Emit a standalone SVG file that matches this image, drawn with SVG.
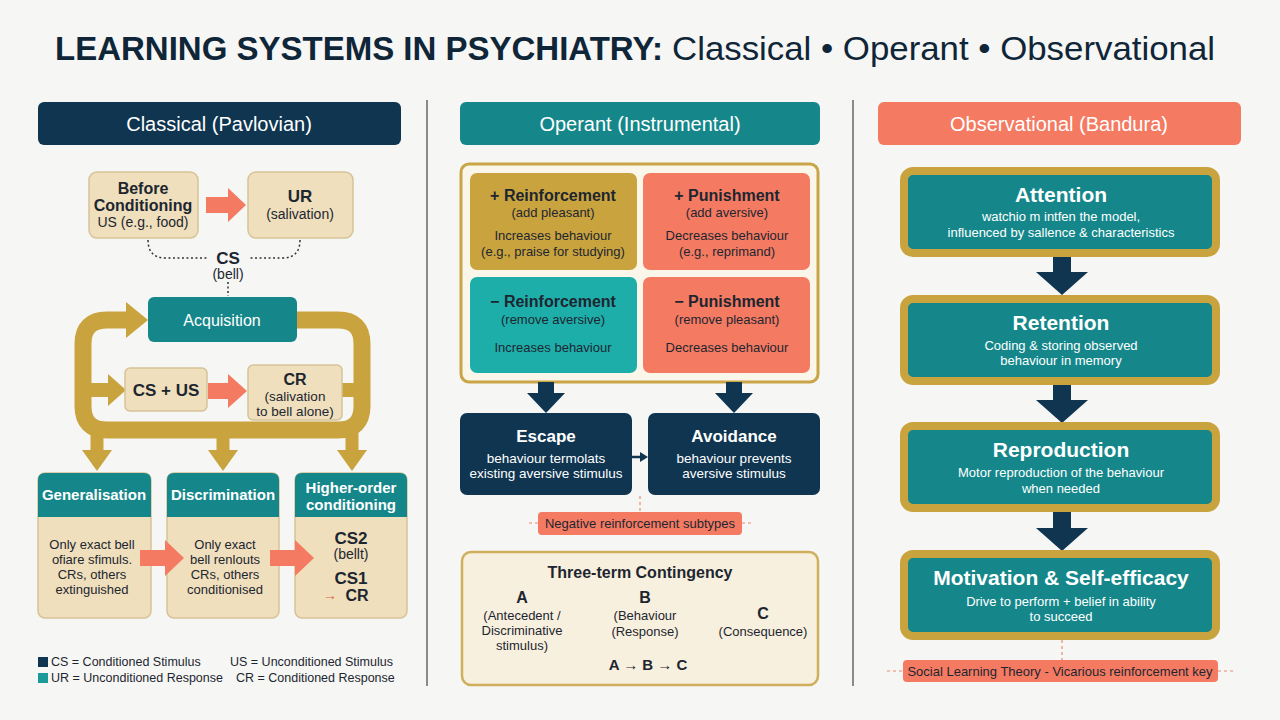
<svg xmlns="http://www.w3.org/2000/svg" width="1280" height="720" viewBox="0 0 1280 720">
<defs>
<style>
text{font-family:"Liberation Sans",Arial,sans-serif;text-anchor:middle;fill:#1d2630}
.b{font-weight:bold}
.w{fill:#ffffff}
.hdr{font-size:20px;fill:#ffffff}
.tan{fill:#efdfbc;stroke:#d6c397;stroke-width:1.5}
.navy{fill:#0f3550}
.teal{fill:#15878b}
.coral{fill:#f47a62}
.gold{fill:#c9a33e}
.s13{font-size:13px}
.s12{font-size:12.5px}
.dot{fill:none;stroke:#333;stroke-width:1.5;stroke-dasharray:2 2.5}
.dash{fill:none;stroke:#e88a70;stroke-width:1.2;stroke-dasharray:3 3}
.obox{fill:#15878b;stroke:#c9a33e;stroke-width:8}
</style>
</defs>
<rect width="1280" height="720" fill="#f6f6f4"/>

<g id="title">
<text x="55" y="60" class="b" style="font-size:34px;text-anchor:start;fill:#0f2538" textLength="608" lengthAdjust="spacingAndGlyphs">LEARNING SYSTEMS IN PSYCHIATRY:</text>
<text x="672" y="60" style="font-size:34px;text-anchor:start;fill:#0f2538" textLength="543" lengthAdjust="spacingAndGlyphs">Classical • Operant • Observational</text>
</g>

<g id="dividers">
<line x1="427" y1="100" x2="427" y2="686" stroke="#444" stroke-width="1.2"/>
<line x1="853" y1="100" x2="853" y2="686" stroke="#444" stroke-width="1.2"/>
</g>

<g id="header-classical"><rect x="38" y="102" width="363" height="43" rx="6" class="navy"/><text x="219" y="131" class="hdr">Classical (Pavlovian)</text></g>
<g id="header-operant"><rect x="460" y="102" width="360" height="43" rx="6" class="teal"/><text x="640" y="131" class="hdr">Operant (Instrumental)</text></g>
<g id="header-observational"><rect x="878" y="102" width="363" height="43" rx="6" class="coral"/><text x="1059" y="131" class="hdr">Observational (Bandura)</text></g>

<!-- Left column connectors -->
<g id="connectors-left">
<path class="dot" d="M148,240 Q148,258 166,258 H208"/>
<path class="dot" d="M300,240 Q300,258 282,258 H250"/>
<path class="dot" d="M228,282 V296"/>
<polygon class="coral" points="206,197 228,197 228,188 246,205 228,222 228,213 206,213"/>
<path d="M297,320 H338 Q362,320 362,344 V406 Q362,430 338,430 H107 Q83,430 83,406 V344 Q83,320 107,320 H128" fill="none" stroke="#c9a33e" stroke-width="17"/>
<polygon class="gold" points="126,302 148,320 126,338"/>
<path d="M83,390 H110" stroke="#c9a33e" stroke-width="14"/>
<polygon class="gold" points="108,374 126,390 108,406"/>
<path d="M342,390 H362" stroke="#c9a33e" stroke-width="14"/>
<polygon class="coral" points="208,383 228,383 228,374 247,391 228,408 228,399 208,399"/>
<path d="M97,430 V452 M223,430 V452 M352,430 V452" stroke="#c9a33e" stroke-width="13"/>
<polygon class="gold" points="82,450 112,450 97,471"/>
<polygon class="gold" points="208,450 238,450 223,471"/>
<polygon class="gold" points="337,450 367,450 352,471"/>
</g>

<g id="before-conditioning"><rect x="89" y="172" width="109" height="66" rx="8" class="tan"/>
<text x="143" y="194" class="b" style="font-size:16px">Before</text>
<text x="143" y="211" class="b" style="font-size:16px">Conditioning</text>
<text x="143" y="227" style="font-size:14px">US (e.g., food)</text></g>

<g id="ur"><rect x="248" y="172" width="105" height="66" rx="8" class="tan"/>
<text x="300" y="202" class="b" style="font-size:17px">UR</text>
<text x="300" y="219" style="font-size:14px">(salivation)</text></g>

<g id="cs-bell"><text x="228" y="264" class="b" style="font-size:17px">CS</text>
<text x="228" y="279" style="font-size:14px">(bell)</text></g>

<g id="acquisition"><rect x="148" y="297" width="149" height="45" rx="6" class="teal"/>
<text x="222" y="326" class="w" style="font-size:16px">Acquisition</text></g>

<g id="cs-us"><rect x="125" y="368" width="82" height="43" rx="5" class="tan"/>
<text x="166" y="396" class="b" style="font-size:17px">CS + US</text></g>

<g id="cr"><rect x="248" y="365" width="94" height="55" rx="5" class="tan"/>
<text x="295" y="385" class="b" style="font-size:16px">CR</text>
<text x="295" y="401" style="font-size:13.5px">(salivation</text>
<text x="295" y="416" style="font-size:13.5px">to bell alone)</text></g>

<g id="generalisation"><rect x="38" y="473" width="113" height="145" rx="7" class="tan"/>
<path d="M38,517 V480 Q38,473 45,473 H144 Q151,473 151,480 V517 Z" class="teal"/>
<text x="94" y="500" class="b w" style="font-size:15px">Generalisation</text>
<text x="92" y="549" class="s13">Only exact bell</text>
<text x="92" y="564" class="s13">ofiare sfimuls.</text>
<text x="92" y="579" class="s13">CRs, others</text>
<text x="92" y="594" class="s13">extinguished</text></g>

<g id="discrimination"><rect x="167" y="473" width="112" height="145" rx="7" class="tan"/>
<path d="M167,517 V480 Q167,473 174,473 H272 Q279,473 279,480 V517 Z" class="teal"/>
<text x="223" y="500" class="b w" style="font-size:15px">Discrimination</text>
<text x="225" y="549" class="s13">Only exact</text>
<text x="225" y="564" class="s13">bell renlouts</text>
<text x="225" y="579" class="s13">CRs, others</text>
<text x="225" y="594" class="s13">conditionised</text></g>

<g id="higher-order"><rect x="295" y="473" width="112" height="145" rx="7" class="tan"/>
<path d="M295,517 V480 Q295,473 302,473 H400 Q407,473 407,480 V517 Z" class="teal"/>
<text x="351" y="493" class="b w" style="font-size:15px">Higher-order</text>
<text x="351" y="510" class="b w" style="font-size:15px">conditioning</text>
<text x="351" y="544" class="b" style="font-size:17px">CS2</text>
<text x="351" y="559" style="font-size:14px">(bellt)</text>
<text x="351" y="584" class="b" style="font-size:17px">CS1</text>
<text x="357" y="601" class="b" style="font-size:16px">CR</text>
<text x="330" y="600" style="font-size:14px;fill:#e0604a">→</text></g>

<g id="connectors-left-bottom">
<polygon class="coral" points="140,550 165,550 165,540 184,558 165,576 165,566 140,566"/>
<polygon class="coral" points="270,550 295,550 295,540 314,558 295,576 295,566 270,566"/>
</g>

<g id="legend">
<rect x="38" y="657" width="10" height="10" class="navy"/>
<rect x="38" y="673" width="10" height="10" fill="#1b9a9a"/>
<text x="51" y="666" class="s12" style="text-anchor:start">CS = Conditioned Stimulus</text>
<text x="51" y="682" class="s12" style="text-anchor:start">UR = Unconditioned Response</text>
<text x="230" y="666" class="s12" style="text-anchor:start">US = Unconditioned Stimulus</text>
<text x="236" y="682" class="s12" style="text-anchor:start">CR = Conditioned Response</text>
</g>

<!-- Middle column -->
<g id="operant-grid"><rect x="461" y="164" width="357" height="218" rx="8" fill="#fbf6ea" stroke="#c9a548" stroke-width="3"/></g>

<g id="pos-reinforcement"><rect x="470" y="173" width="167" height="97" rx="7" class="gold"/>
<text x="553" y="201" class="b" style="font-size:16px">+ Reinforcement</text>
<text x="553" y="217" class="s13">(add pleasant)</text>
<text x="553" y="240" class="s13">Increases behaviour</text>
<text x="553" y="256" class="s13">(e.g., praise for studying)</text></g>

<g id="pos-punishment"><rect x="643" y="173" width="167" height="97" rx="7" class="coral"/>
<text x="727" y="201" class="b" style="font-size:16px">+ Punishment</text>
<text x="727" y="217" class="s13">(add aversive)</text>
<text x="727" y="240" class="s13">Decreases behaviour</text>
<text x="727" y="256" class="s13">(e.g., reprimand)</text></g>

<g id="neg-reinforcement"><rect x="470" y="277" width="167" height="96" rx="7" fill="#1eaeaa"/>
<text x="553" y="307" class="b" style="font-size:16px">− Reinforcement</text>
<text x="553" y="324" class="s13">(remove aversive)</text>
<text x="553" y="352" class="s13">Increases behaviour</text></g>

<g id="neg-punishment"><rect x="643" y="277" width="167" height="96" rx="7" class="coral"/>
<text x="727" y="307" class="b" style="font-size:16px">− Punishment</text>
<text x="727" y="324" class="s13">(remove pleasant)</text>
<text x="727" y="352" class="s13">Decreases behaviour</text></g>

<g id="connectors-middle">
<rect x="538" y="382" width="16" height="13" class="navy"/>
<polygon class="navy" points="527,393 565,393 546,413"/>
<rect x="726" y="382" width="16" height="13" class="navy"/>
<polygon class="navy" points="715,393 753,393 734,413"/>
<path d="M632,457 H642" stroke="#0f3550" stroke-width="2.5"/>
<polygon class="navy" points="640,452 648,457 640,462"/>
<path class="dash" d="M640,496 V512"/>
<path class="dash" d="M529,523 H538 M742,523 H751"/>
<polygon class="teal" points="571,615 590,615 590,606 606,623 590,640 590,631 571,631"/>
<polygon class="coral" points="686,615 704,615 704,606 720,623 704,640 704,631 686,631"/>
</g>

<g id="escape"><rect x="460" y="413" width="172" height="82" rx="7" class="navy"/>
<text x="546" y="442" class="b w" style="font-size:17px">Escape</text>
<text x="546" y="463" class="w" style="font-size:13.5px">behaviour termolats</text>
<text x="546" y="478" class="w" style="font-size:13.5px">existing aversive stimulus</text></g>

<g id="avoidance"><rect x="648" y="413" width="172" height="82" rx="7" class="navy"/>
<text x="734" y="442" class="b w" style="font-size:17px">Avoidance</text>
<text x="734" y="463" class="w" style="font-size:13.5px">behaviour prevents</text>
<text x="734" y="478" class="w" style="font-size:13.5px">aversive stimulus</text></g>

<g id="neg-subtypes"><rect x="538" y="512" width="204" height="23" rx="4" class="coral"/>
<text x="640" y="528" class="s13">Negative reinforcement subtypes</text></g>

<g id="three-term"><rect x="462" y="552" width="356" height="133" rx="9" fill="#f8f0de" stroke="#cfae5c" stroke-width="2.5"/>
<text x="640" y="578" class="b" style="font-size:16px">Three-term Contingency</text>
<text x="522" y="603" class="b" style="font-size:16px">A</text>
<text x="522" y="620" class="s13">(Antecedent /</text>
<text x="522" y="635" class="s13">Discriminative</text>
<text x="522" y="650" class="s13">stimulus)</text>
<text x="645" y="603" class="b" style="font-size:16px">B</text>
<text x="645" y="620" class="s13">(Behaviour</text>
<text x="645" y="636" class="s13">(Response)</text>
<text x="763" y="619" class="b" style="font-size:16px">C</text>
<text x="763" y="636" class="s13">(Consequence)</text>
<text x="648" y="670" class="b" style="font-size:15px">A → B → C</text></g>

<!-- Right column -->
<g id="connectors-right">
<rect x="1053" y="256" width="18" height="18" class="navy"/>
<polygon class="navy" points="1036,272 1088,272 1062,295"/>
<rect x="1053" y="384" width="18" height="18" class="navy"/>
<polygon class="navy" points="1036,400 1088,400 1062,423"/>
<rect x="1053" y="511" width="18" height="19" class="navy"/>
<polygon class="navy" points="1036,528 1088,528 1062,551"/>
<path class="dash" d="M1062,640 V660"/>
<path class="dash" d="M887,671 H903 M1218,671 H1236"/>
</g>

<g id="attention"><rect x="904" y="171" width="312" height="82" rx="9" class="obox"/>
<text x="1061" y="202" class="b w" style="font-size:21px">Attention</text>
<text x="1061" y="221" class="w s13">watchio m intfen the model,</text>
<text x="1061" y="237" class="w s13">influenced by sallence &amp; characteristics</text></g>

<g id="retention"><rect x="904" y="299" width="312" height="82" rx="9" class="obox"/>
<text x="1061" y="330" class="b w" style="font-size:21px">Retention</text>
<text x="1061" y="350" class="w s13">Coding &amp; storing observed</text>
<text x="1061" y="365" class="w s13">behaviour in memory</text></g>

<g id="reproduction"><rect x="904" y="426" width="312" height="82" rx="9" class="obox"/>
<text x="1061" y="457" class="b w" style="font-size:21px">Reproduction</text>
<text x="1061" y="477" class="w s13">Motor reproduction of the behaviour</text>
<text x="1061" y="493" class="w s13">when needed</text></g>

<g id="motivation"><rect x="904" y="554" width="312" height="82" rx="9" class="obox"/>
<text x="1061" y="585" class="b w" style="font-size:21px">Motivation &amp; Self-efficacy</text>
<text x="1061" y="606" class="w s13">Drive to perform + belief in ability</text>
<text x="1061" y="621" class="w s13">to succeed</text></g>

<g id="social-learning"><rect x="903" y="660" width="315" height="22" rx="4" class="coral"/>
<text x="1060" y="676" class="s13">Social Learning Theory - Vicarious reinforcement key</text></g>
</svg>
